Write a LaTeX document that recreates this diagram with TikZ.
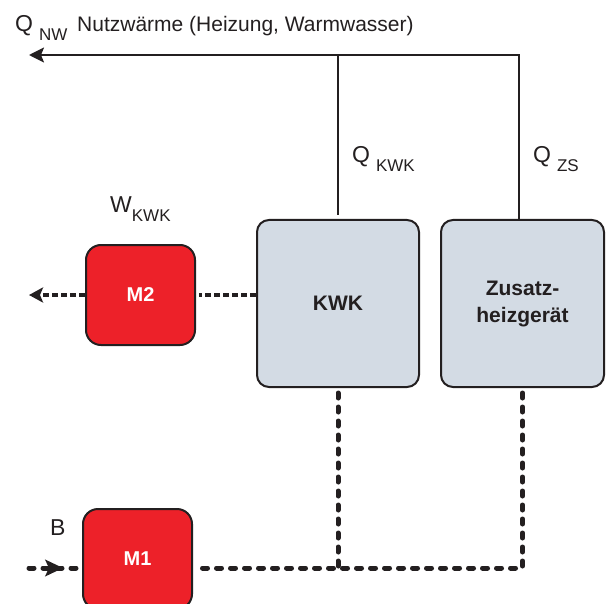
\documentclass[tikz,border=0pt]{standalone}
\usepackage{fontspec}
\setmainfont{Liberation Sans}
\usetikzlibrary{arrows.meta}
\definecolor{ink}{HTML}{231F20}
\definecolor{mred}{HTML}{ED2129}
\definecolor{boxgrey}{HTML}{D3DBE4}
\newcommand{\fsz}[1]{\fontsize{#1bp}{#1bp}\selectfont}
\newcommand{\sublabel}[3]{{\fsz{23}#1}\hspace{#3}\raisebox{-9bp}{\fsz{17}#2}}
\begin{document}
\begin{tikzpicture}[x=1bp,y=-1bp,
  bigbox/.style={draw=ink, line width=2bp, fill=boxgrey, rounded corners=12bp,
    minimum width=162bp, minimum height=167bp, text=ink, align=center, inner sep=0pt,
    font=\fontsize{21bp}{27bp}\selectfont\bfseries},
  mbox/.style={draw=ink, line width=2bp, fill=mred, rounded corners=15bp,
    minimum width=109bp, minimum height=100bp, text=white, inner sep=0pt,
    font=\fsz{20}\bfseries},
  heatline/.style={draw=ink, line width=2bp},
  fuelline/.style={draw=ink, line width=5bp, line cap=round, dash pattern=on 5bp off 9bp},
  powerline/.style={draw=ink, line width=3.5bp, dash pattern=on 6bp off 3bp},
  lbl/.style={anchor=base west, inner sep=0pt, text=ink}]
\useasboundingbox (0,0) rectangle (608,604);
% boxes
\node[bigbox] (KWK) at (338,303.5) {KWK};
\node[bigbox, minimum width=163bp] (Zus) at (522.5,303.5) {Zusatz-\\heizgerät};
\node[mbox] (M2) at (140.5,295) {M2};
\node[mbox] (M1) at (137.5,559) {M1};
% coordinates for free ends
\coordinate (top) at (519,55);
\coordinate (nwtip) at (29,55);
\coordinate (w2tip) at (29,295);
\coordinate (bin) at (29,568);
\coordinate (barrb) at (46,568);
\coordinate (barr) at (63,568);
% heat lines
\draw[heatline, -{Stealth[length=15bp,width=15bp,inset=3bp]}] (Zus.north -| top) -- (top) -- (nwtip);
\draw[heatline] ([yshift=4bp]KWK.north) -- (KWK.north |- top);
% power line
\draw[powerline, shorten >=3bp] (KWK.west |- M2.east) -- (M2.east);
\draw[powerline, -{Stealth[length=14bp,width=15bp,inset=3bp]}] (M2.west) -- (w2tip);
% fuel lines
\draw[fuelline, shorten >=3bp] (bin) -- (M1.west |- bin);
\draw[ink, line width=1bp, -{Stealth[length=18bp,width=17bp,inset=4bp]}] (barrb) -- (barr);
\draw[fuelline] ([yshift=-5bp]Zus.south) -- (Zus.south |- bin) -- ([xshift=3bp]M1.east |- bin);
\draw[fuelline] ([yshift=-5bp]KWK.south) -- (KWK.south |- bin);
% labels
\node[lbl] (qnw) at (15,32) {\sublabel{Q}{NW}{6bp}};
\node[lbl, font=\fsz{21}] (nw) at (77,32) {Nutzwärme (Heizung, Warmwasser)};
\node[lbl] (qkwk) at (352,163) {\sublabel{Q}{KWK}{6bp}};
\node[lbl] (qzs) at (533,163) {\sublabel{Q}{ZS}{6bp}};
\node[lbl] (wkwk) at (110,212) {\sublabel{W}{KWK}{0bp}};
\node[lbl, font=\fsz{23}] (b) at (50,535) {B};
\end{tikzpicture}
\end{document}
